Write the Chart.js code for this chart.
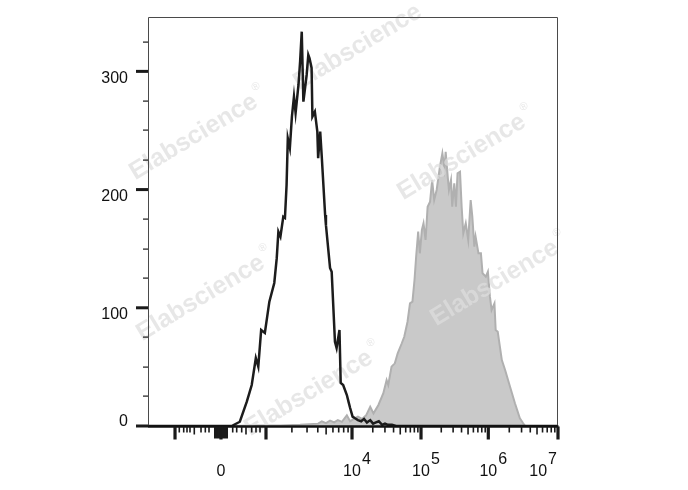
<!DOCTYPE html>
<html><head><meta charset="utf-8">
<script src="https://cdn.jsdelivr.net/npm/chart.js@4"></script>
<style>html,body{margin:0;padding:0;background:#fff}#wrap{width:688px;height:490px;position:relative}</style>
</head><body><div id="wrap"><canvas id="c"></canvas></div>
<script>
// Histogram channels (display channel 0..1000 on the biexponential axis) and event counts
const blackChannels = [0,204,224,241,253,263,269,276,285,296,308,314,318,323,330,334,338,341,346,351,356,360,367,371,375,379,387,391,394,399,401,407,413,415,420,424,432,434,444,448,456,460,467,470,476,485,489,493,499,505,512,520,527,534,542,549,556,563,571,578,585,595,605,1000];
const blackCounts = [0,0,3.6,20.6,34.7,57.5,50.2,81.2,78.7,105.2,121,142,164.4,160.2,177,176,203.9,243.4,235.2,261.7,278.6,264.8,288.5,308.2,333.6,274.4,297,313.9,311,302.9,261.7,265.9,249,226.5,249,226.7,178.5,170,133.7,130.5,71.3,66,81.2,36.4,34.7,26.2,20.6,15.2,7.9,6.5,5,4,6,3,5,2,3,4,1,2,1,1,0,0];
const grayChannels = [0,207,249,322,371,415,424,434,444,454,463,473,485,493,502,512,522,532,542,550,562,574,582,586,594,602,609,619,625,633,639,645,650,654,659,663,668,672,677,682,688,693,698,704,712,718,723,726,731,734,739,742,747,751,755,761,765,769,775,781,787,791,796,799,806,812,816,824,829,834,838,845,848,853,863,871,883,895,907,915,920,1000];
const grayCounts = [0,0,0.5,0.5,1,2,4,2.5,4.5,3,5,3.5,9,4,6,8,6,9,16.3,10.7,17.8,27.7,38.9,34.7,50.2,53,61.5,70,75.5,88.2,103.8,105.2,123.5,143.2,164.4,146.1,165.8,171.5,157.4,185.5,189.8,208.1,191.2,199.7,219.4,230.7,218,232,210.9,199.7,208.1,185.5,205.3,185.5,213.8,215.1,185.5,163,171.5,157.4,191.2,177.1,151.7,160.2,146.1,146.1,129.2,126.3,130.5,109.4,98.1,103.8,81.2,79.8,55.8,47.4,33.2,19.2,6.5,2.3,0,0];

// Axis ticks
const yMajorTicks = [0,100,200,300];
const yMinorTicks = [25,50,75,125,150,175,225,250,275,325];
const xMajorTickChannels = [65.9,178,287.8,497.6,665.9,830,1000];
const xDecadeChannels = [287.8,497.6,665.9,830,1000];
const xNearZeroMinor = [76.3,87.1,95.1,102.4,129.3,139.8,148.8,206.6,216.3,228.5,252.9,263.4,273.2];
const xNearZeroMid = [112.9,239];
const xZeroBlock = [163.4,168.3,173.2,182.9,187.8,192.7];
const xLabelChannels = [178,497.6,665.9,830,1000];
const xLabelBases = ['0','10','10','10','10'];
const xLabelExps = ['','4','5','6','7'];
const watermarkText = 'Elabscience';
const watermarkMark = '®';
const watermarkCenters = [[361,45],[197,135],[465,155],[204,296],[498,281],[312,391]];

const FONT = "'Liberation Sans', Arial, sans-serif";

const decor = {
  id: 'decor',
  afterDatasetDraw(chart, args) {
    if (args.index !== 1) return;
    const ctx = chart.ctx;
    ctx.save();
    ctx.fillStyle = 'rgba(222,222,222,0.72)';
    for (const [cx, cy] of watermarkCenters) {
      ctx.save();
      ctx.translate(cx, cy);
      ctx.rotate(-31 * Math.PI / 180);
      ctx.font = 'bold 25px ' + FONT;
      const w = ctx.measureText(watermarkText).width;
      ctx.textBaseline = 'middle';
      ctx.textAlign = 'left';
      ctx.fillText(watermarkText, -w / 2 - 4, 0);
      ctx.font = '11px ' + FONT;
      ctx.fillText(watermarkMark, w / 2 - 1, -11);
      ctx.restore();
    }
    ctx.restore();
  },
  afterDraw(chart) {
    const ctx = chart.ctx, xs = chart.scales.x, ys = chart.scales.y, a = chart.chartArea;
    ctx.save();
    // frame
    ctx.strokeStyle = '#4a4a4a'; ctx.lineWidth = 1;
    ctx.beginPath();
    ctx.moveTo(a.left + 0.5, a.bottom); ctx.lineTo(a.left + 0.5, a.top + 0.5);
    ctx.lineTo(a.right - 0.5, a.top + 0.5); ctx.lineTo(a.right - 0.5, a.bottom);
    ctx.stroke();
    // bottom axis line
    ctx.strokeStyle = '#111'; ctx.lineWidth = 2.5;
    ctx.beginPath(); ctx.moveTo(a.left, a.bottom + 0.6); ctx.lineTo(a.right + 0.5, a.bottom + 0.6); ctx.stroke();
    ctx.fillStyle = '#1a1a1a';
    // y ticks
    for (const v of yMajorTicks) { const py = ys.getPixelForValue(v); ctx.fillRect(a.left - 12, py - 1.5, 12, 3); }
    for (const v of yMinorTicks) { const py = ys.getPixelForValue(v); ctx.fillRect(a.left - 5, Math.round(py) - 0.5, 5, 1.2); }
    // x ticks
    const tb = a.bottom + 0.5;
    for (const c of xMajorTickChannels) { const px = xs.getPixelForValue(c); ctx.fillRect(px - 1.6, tb, 3.2, 13); }
    for (const c of xZeroBlock) { const px = xs.getPixelForValue(c); ctx.fillRect(px - 1, tb, 2, 12); }
    for (const c of xNearZeroMid) { const px = xs.getPixelForValue(c); ctx.fillRect(px - 0.8, tb, 1.6, 8); }
    for (const c of xNearZeroMinor) { const px = xs.getPixelForValue(c); ctx.fillRect(px - 0.8, tb, 1.6, 6); }
    for (let i = 0; i < xDecadeChannels.length - 1; i++) {
      const c0 = xDecadeChannels[i], c1 = xDecadeChannels[i + 1];
      for (let m = 2; m <= 9; m++) {
        const px = xs.getPixelForValue(c0 + Math.log10(m) * (c1 - c0));
        ctx.fillRect(px - 0.8, tb, 1.6, m === 5 ? 8 : 6);
      }
    }
    // y labels
    ctx.font = '16px ' + FONT; ctx.fillStyle = '#111'; ctx.textAlign = 'right'; ctx.textBaseline = 'alphabetic';
    for (const v of yMajorTicks) {
      const py = ys.getPixelForValue(v);
      ctx.fillText(String(v), a.left - 20, v === 0 ? py - 0.5 : py + 11.5);
    }
    // x labels
    for (let i = 0; i < xLabelChannels.length; i++) {
      const px = xs.getPixelForValue(xLabelChannels[i]);
      const base = xLabelBases[i], exp = xLabelExps[i];
      ctx.font = '16px ' + FONT;
      const w1 = ctx.measureText(base).width, w2 = exp ? ctx.measureText(exp).width : 0;
      let cx = px;
      const end = cx + w1 / 2 + (exp ? 1 + w2 : 0);
      if (end > a.right - 1) cx -= end - (a.right - 1);
      ctx.textAlign = 'center';
      ctx.fillText(base, cx, 476);
      if (exp) { ctx.textAlign = 'left'; ctx.fillText(exp, cx + w1 / 2 + 1, 464); }
    }
    ctx.restore();
  }
};

new Chart(document.getElementById('c'), {
  type: 'line',
  data: {
    datasets: [
      { label: 'Unstained', data: blackChannels.map((c, i) => ({ x: c, y: blackCounts[i] })),
        borderColor: '#1c1c1c', borderWidth: 2.5, pointRadius: 0, fill: false, tension: 0 },
      { label: 'Stained', data: grayChannels.map((c, i) => ({ x: c, y: grayCounts[i] })),
        borderColor: 'rgb(176,176,176)', backgroundColor: 'rgb(201,201,201)', borderWidth: 2, pointRadius: 0, fill: 'origin', tension: 0 }
    ]
  },
  options: {
    responsive: true, maintainAspectRatio: false, animation: false,
    layout: { padding: { left: 148, right: 130, top: 17, bottom: 64 } },
    scales: {
      x: { type: 'linear', min: 0, max: 1000, display: false },
      y: { min: 0, max: 346, display: false }
    },
    plugins: { legend: { display: false }, tooltip: { enabled: false } }
  },
  plugins: [decor]
});
</script></body></html>
